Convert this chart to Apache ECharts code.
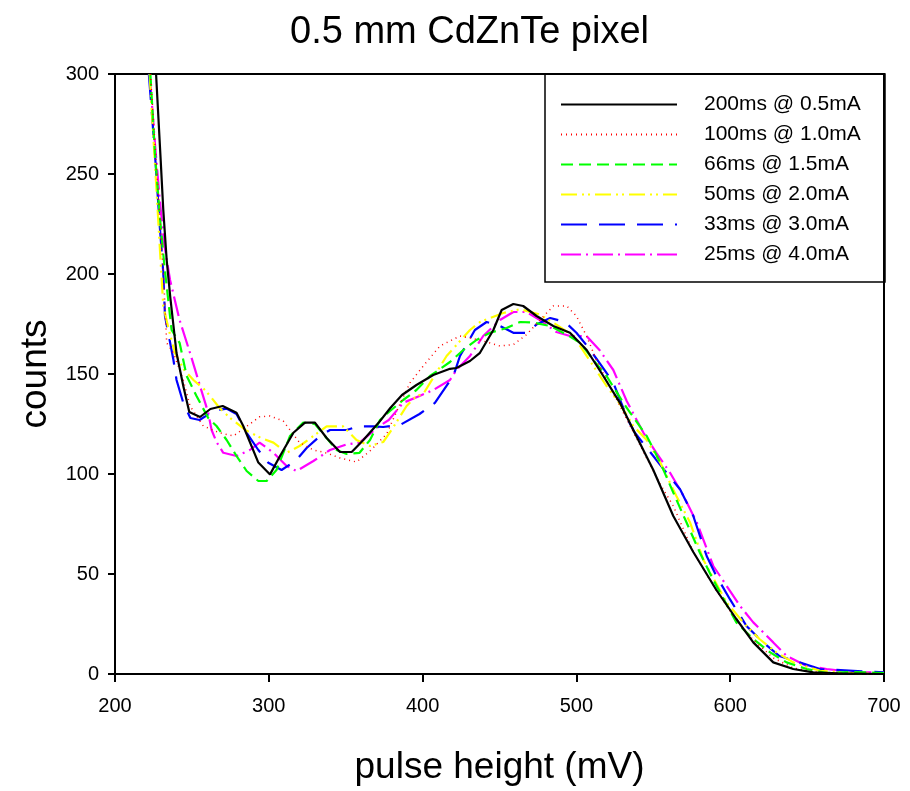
<!DOCTYPE html>
<html>
<head>
<meta charset="utf-8">
<script src="https://cdn.jsdelivr.net/npm/echarts@6/dist/echarts.min.js"></script>
<style>html,body{margin:0;padding:0;background:#fff;}#c{width:910px;height:791px;}</style>
</head>
<body>
<div id="c"></div>
<script>
var seriesNames = ["200ms @ 0.5mA","100ms @ 1.0mA","66ms @ 1.5mA","50ms @ 2.0mA","33ms @ 3.0mA","25ms @ 4.0mA"];
var xTicks = [200,300,400,500,600,700];
var yTicks = [0,50,100,150,200,250,300];

var blackX = [226.7,229.7,231.4,233.6,236,240,244.4,248.3,255.3,262,270,279,283.4,293.2,300.8,307.3,316,323.5,330,337.6,346.3,353.9,361.5,371.5,379,386.6,396,406.9,417.8,422,430.8,437.3,446,451.4,459,465.4,474.1,485,495.8,506.7,517.5,528.3,537,550,563,576,591,604,615,628,641,654,670,700];
var blackY = [300,257,232,207,188,160.5,144,131,128.5,132.5,134,130.6,124,105.7,99.8,109,120.6,125.7,125.7,118,111,111,117,125.7,133,139.5,144.5,149.5,152.6,153,156.5,160.6,172,182,185,184,179,174,170.6,162,149,135.6,122,102,79,61,42,27.5,15.8,5.8,2.5,0.8,0.3,0];

var redX = [223,226,229,231.5,233.6,238,244.4,248.8,257.4,268,277,287.7,294,300.8,309.4,320,329,337.6,346.3,357,365.8,376.6,385.3,391.8,400.4,411.3,424.3,437.3,450.3,459,467.6,476.3,485,493.7,500,506.6,513,519.6,535,554,563,576,590,603,615,628,641,655,670,700];
var redY = [300,265,230,200,165.6,160.5,147,134,124,120.6,119,125,128.6,129,126.5,115.7,112,110.5,108,106,111.5,120,135,145.6,154,164,169,167,164,164.7,169.7,177,184,184,179,169,157,147,124,95.6,84,61,43,28,17,8,3,1,0.5,0];

var greenX = [223,226,229,232,236.8,242,246.6,253,260.6,266,272.6,279,285.6,293.2,298.6,305,313.8,322.4,330,336.5,344,350.6,359,365.8,372.3,378.8,387.4,396,404.8,417.8,426.5,435,443.8,454.6,463.4,472,483,493.7,502.4,511,519.6,530.5,535,545.7,554.6,563,571.7,580.3,589,593.4,604,615,626,636.7,649.7,662.7,680,700];
var greenY = [300,260,230,205,172,165.6,149,139,128,124,117,109,101.5,96.5,96.5,102,119,125.7,125,119,112,110,110.6,117,127,131.5,137,142,149,156,162,167,170.6,173,176,175.7,174,169.7,165.6,157,149,135.6,130.6,119,105.6,90.7,75.6,60.6,47,40.8,25.8,17.5,10.8,5.8,2.5,0.5,1,0.5];

var yellowX = [222.5,226,229,231.4,235,239,245,251,258.5,261.8,268,274.8,285.6,295,303,311.6,320,329,337.6,348.4,357,365.8,374.4,379.8,389.6,396,400.4,415.6,430.8,437.3,452.4,463.4,476.3,487,498,502.4,511,519.6,528.3,537,545.7,554.6,565,574,582.6,597.6,608.5,619,630,641,658.4,680,700];
var yellowY = [300,255,215,184,172,160.5,152,147,142,139,133,128,121.6,118,115.7,110.6,114,119,123.8,123.8,117,114,116,122,134,139,140,159,172,176,180.5,182.4,179.7,174.7,169,164,154,144,135,124,117,105.6,89,75.6,57,35.8,25.8,17.5,10.8,5.8,1.6,0.5,0];

var blueX = [222,226,229,231.4,232.5,238,240,244.4,249,255,264,272.5,279,285.6,293.2,299.7,308.3,318,324.6,333.3,339.8,350.6,358,368,374.4,385.3,398,408,420,424.3,434,441.6,450.3,459,467.6,474,483,492.6,500,507,515,524,533.6,538,550,558.7,567.4,576,584.7,591,599.8,610.6,621.4,632,645,658.4,680,700];
var blueY = [300,260,225,200.5,179,157,147,135.6,128,127,131.5,132.7,130,120.6,112,105.6,102,107,113,119,122,122,123.8,123.8,123.5,124.5,130,135.6,149,159,172,176,174,170.6,170.6,174.7,178,176,170.6,164,155.6,145.6,127,120.6,109,100.5,92.4,79,59,49,37.4,24,15.8,9,5.8,2.5,1.6,0.8];

var magentaX = [222.5,226,229,232,235.8,242,248.8,255.3,260.6,262.8,266,270.4,279,287.7,294,303,311.6,318,329,339.8,350.6,359,371.5,378,387.4,398,407,417.8,422,430.8,439.4,450.3,459,467.6,476.3,487,495.8,506.6,515,524,532.7,543.6,552,561,569.7,578.4,589,593.4,606.4,615,628,636.7,649.7,662.7,680,700];
var magentaY = [300,265,238,215,197,177,160.5,144,130.6,122,116,110.6,109,112,115.7,110.6,104,101.5,106.5,112,114.8,115.7,123.8,127,135.6,139,142,147,152,159,169,177,181,181,177,171,169,169,162,152,136.5,120.6,110.6,100.5,89,75.6,54,49,34,25.8,15.8,9,4,2.5,0.8,0.8];

function zip(xs, ys){ return xs.map(function(x,i){ return [x, ys[i]]; }); }

var seriesData = [zip(blackX,blackY), zip(redX,redY), zip(greenX,greenY), zip(yellowX,yellowY), zip(blueX,blueY), zip(magentaX,magentaY)];
var colors = ['#000000','#ff0000','#00ff00','#ffff00','#0000ff','#ff00ff'];
var dashTypes = ['solid',[1,4],[12,6],[16,5,2,4,2,5],[26,12],[20,5,2,5]];
var widths = [2.2,1.5,2.2,2.2,2.2,2.2];

var chart = echarts.init(document.getElementById('c'), null, {renderer:'canvas'});
var font = 'Liberation Sans, Arial, sans-serif';
var option = {
  animation:false,
  backgroundColor:'#fff',
  title:{text:'0.5 mm CdZnTe pixel', left:285, top:9, textStyle:{fontFamily:font, fontSize:38, fontWeight:'normal', color:'#000'}},
  grid:{left:115, right:26, top:74, bottom:116, show:true, borderColor:'#000', borderWidth:2, containLabel:false},
  xAxis:{type:'value', min:200, max:700, interval:100,
    name:'pulse height (mV)', nameLocation:'middle', nameGap:75,
    nameTextStyle:{fontFamily:font, fontSize:37, color:'#000'},
    axisLine:{show:true, lineStyle:{color:'#000', width:2}},
    axisTick:{show:true, inside:false, length:8, lineStyle:{color:'#000', width:2}},
    axisLabel:{fontFamily:font, fontSize:20, color:'#000', margin:22, formatter:function(v){return xTicks.indexOf(v)>=0?String(v):'';}},
    splitLine:{show:false}},
  yAxis:{type:'value', min:0, max:300, interval:50,
    name:'counts', nameLocation:'middle', nameGap:58,
    nameTextStyle:{fontFamily:font, fontSize:37, color:'#000'},
    axisLine:{show:true, lineStyle:{color:'#000', width:2}},
    axisTick:{show:true, inside:false, length:7, lineStyle:{color:'#000', width:2}},
    axisLabel:{fontFamily:font, fontSize:20, color:'#000', margin:16, formatter:function(v){return yTicks.indexOf(v)>=0?String(v):'';}},
    splitLine:{show:false}},
  legend:{show:true, orient:'vertical', left:560, top:94, padding:0, itemWidth:116, itemHeight:14, itemGap:9,
    data:seriesNames,
    itemStyle:{opacity:0, borderWidth:0},
    textStyle:{fontFamily:font, fontSize:21, color:'#000', padding:[0,0,0,22]}},
  graphic:[{type:'rect', shape:{x:545, y:74, width:340, height:208}, style:{fill:'#fff', stroke:'#000', lineWidth:1.5}, z:-1, zlevel:0}],
  series: seriesNames.map(function(n,i){
    return {name:n, type:'line', data:seriesData[i], showSymbol:false, symbol:'none', clip:true, z: 10-i,
      lineStyle:{color:colors[i], width:widths[i], type:dashTypes[i]}, itemStyle:{color:colors[i]}};
  })
};
chart.setOption(option);
</script>
</body>
</html>
